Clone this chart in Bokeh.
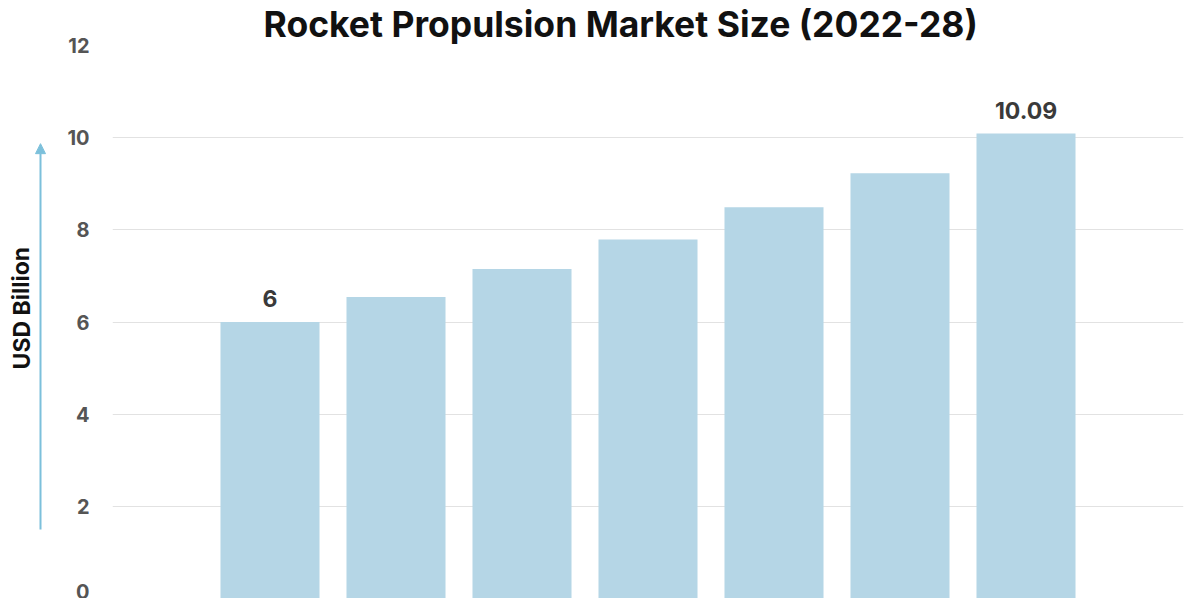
from bokeh.plotting import figure
from bokeh.layouts import row
from bokeh.models import FactorRange, Range1d, FixedTicker, ColumnDataSource, Arrow, NormalHead
from bokeh.core.properties import value
from bokeh.embed import file_html
from bokeh.resources import INLINE

years = ["2022", "2023", "2024", "2025", "2026", "2027", "2028"]
values = [6.0, 6.54, 7.15, 7.79, 8.49, 9.23, 10.09]
bar_labels = ["6", "", "", "", "", "", "10.09"]
y_ticks = [0, 2, 4, 6, 8, 10, 12]
y_title = "USD Billion"
chart_title = "Rocket Propulsion Market Size (2022-28)"

H = 598
yr = Range1d(0, 12)

# left strip holding the y-axis title and the arrow
left = figure(width=56, height=H, output_backend="svg", toolbar_location=None,
              x_range=Range1d(0, 56), y_range=yr,
              min_border=0, min_border_left=0, min_border_right=0,
              min_border_top=0, min_border_bottom=0)
left.axis.visible = False
left.grid.visible = False
left.outline_line_color = None
left.text(x=[21], y=[6.3], text=[y_title], angle=1.5708,
          text_align="center", text_baseline="middle",
          text_font=value("Inter"), text_font_size="23px", text_font_style="bold",
          text_color="#111111")
left.add_layout(Arrow(x_start=40, y_start=1.5, x_end=40, y_end=9.87,
                      line_color="#7cc0db", line_width=2,
                      end=NormalHead(size=10, fill_color="#7cc0db", line_color="#7cc0db")))

src = ColumnDataSource(dict(x=years, top=values, label=bar_labels))

p = figure(width=1134, height=H, output_backend="svg", toolbar_location=None,
           x_range=FactorRange(factors=years, range_padding=0.75, range_padding_units="absolute"),
           y_range=yr,
           title=chart_title,
           min_border_left=56, min_border_right=7, min_border_bottom=0, min_border_top=0)

p.title.text_font = "Inter"
p.title.text_font_size = "35.5px"
p.title.text_font_style = "bold"
p.title.text_color = "#111111"
p.title.align = "left"
p.title.offset = 151
p.title.standoff = 0
p.title.text_line_height = 0.9

p.vbar(x="x", top="top", width=0.786, source=src, color="#b5d6e6", line_color=None)
p.text(x="x", y="top", text="label", source=src, y_offset=-15,
       text_align="center", text_baseline="bottom",
       text_font=value("Inter"), text_font_size="23px", text_font_style="bold",
       text_color="#3a3a3a")

p.xaxis.visible = False
p.xgrid.visible = False
p.ygrid.grid_line_color = "#e2e2e2"
p.ygrid.grid_line_width = 1

ya = p.yaxis[0]
ya.ticker = FixedTicker(ticks=y_ticks)
ya.axis_line_color = None
ya.major_tick_line_color = None
ya.minor_tick_line_color = None
ya.major_tick_out = 0
ya.major_tick_in = 0
ya.major_label_standoff = 23
ya.major_label_text_font = "Inter"
ya.major_label_text_font_size = "20px"
ya.major_label_text_font_style = "bold"
ya.major_label_text_color = "#555555"

p.outline_line_color = None
p.background_fill_color = "white"
p.border_fill_color = "white"

layout = row(left, p, spacing=0)
open("out.html", "w").write(file_html(layout, INLINE))
